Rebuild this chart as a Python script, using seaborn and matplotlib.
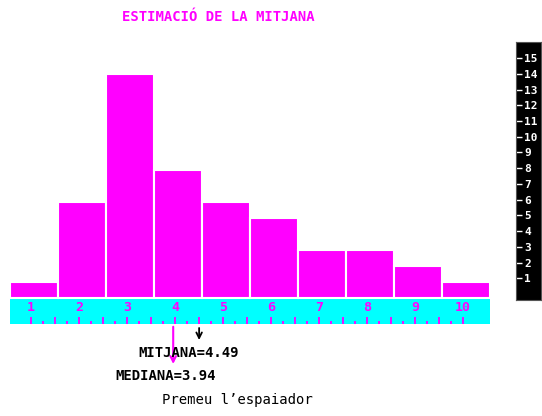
import numpy as np
import pandas as pd
import matplotlib
matplotlib.use("Agg")
import matplotlib.pyplot as plt
import seaborn as sns

# Histogram data
classes = [1, 2, 3, 4, 5, 6, 7, 8, 9, 10]
counts = [1, 6, 14, 8, 6, 5, 3, 3, 2, 1]
mean_value = 4.49
median_value = 3.94
scale_ticks = list(range(1, 16))

title_text = "ESTIMACIÓ DE LA MITJANA"
mean_text = "MITJANA=4.49"
median_text = "MEDIANA=3.94"
prompt_text = "Premeu l\u2019espaiador"

MAGENTA = "#FF00FF"
CYAN = "#00FFFF"

sns.set_style("white")
plt.rcParams['font.family'] = ['DejaVu Sans Mono', 'DejaVu Sans']

df = pd.DataFrame({"classe": classes, "freq": counts})

W, H = 542, 416
fig = plt.figure(figsize=(W / 100, H / 100), dpi=100)
fig.patch.set_facecolor("white")

# main histogram area: x 10..490 px, y 42..324 px
ax = fig.add_axes([10 / W, (H - 324) / H, 480 / W, 282 / H])
sns.barplot(data=df, x="classe", y="freq", native_scale=True, width=1,
            color=MAGENTA, saturation=1, edgecolor="white", linewidth=1.5, ax=ax)
ax.set_xlim(0.5, 10.5)
ax.set_ylim(-1.625, 16)
ax.set_xlabel("")
ax.set_ylabel("")
ax.set_xticks([])
ax.set_yticks([])
for s in ax.spines.values():
    s.set_visible(False)

# cyan ruler under the bars
shift = -0.06
ax.axhspan(-1.625, 0, xmin=0, xmax=1, color=CYAN, zorder=0.5)
major = np.arange(1, 10.01, 0.5) + shift
minor = np.arange(1.25, 9.8, 0.5) + shift
ax.vlines(major, -1.625, -1.19, color=MAGENTA, lw=1.3)
ax.vlines(minor, -1.625, -1.45, color=MAGENTA, lw=1.3)
for c in classes:
    ax.text(c + shift, -0.62, str(c), color=MAGENTA, ha="center", va="center",
            fontsize=9.5, fontweight="bold")

# mean (black) and median (magenta) arrows below the ruler
ax.annotate("", xy=(mean_value - 0.05, -2.8), xytext=(mean_value - 0.05, -1.7),
            xycoords="data", annotation_clip=False,
            arrowprops=dict(arrowstyle="->", color="black", lw=1.3))
ax.annotate("", xy=(median_value - 0.04, -4.3), xytext=(median_value - 0.04, -1.625),
            xycoords="data", annotation_clip=False,
            arrowprops=dict(arrowstyle="->", color=MAGENTA, lw=1.5))

fig.text(189 / W, 1 - 353 / H, mean_text, ha="center", va="center",
         fontsize=10, fontweight="bold", color="black")
fig.text(165.5 / W, 1 - 376 / H, median_text, ha="center", va="center",
         fontsize=10, fontweight="bold", color="black")
fig.text(237.5 / W, 1 - 400 / H, prompt_text, ha="center", va="center",
         fontsize=10, color="black")
fig.text(218.5 / W, 1 - 17 / H, title_text, ha="center", va="center",
         fontsize=10, fontweight="bold", color=MAGENTA)

# black scale panel on the right
axr = fig.add_axes([516 / W, (H - 300) / H, 25 / W, 258 / H])
axr.set_facecolor("black")
axr.set_xlim(0, 1)
axr.set_ylim(-0.38, 16.02)
axr.set_xticks([])
axr.set_yticks(scale_ticks)
axr.set_yticklabels([str(t) for t in scale_ticks])
axr.tick_params(axis="y", direction="in", length=4, width=1, color="white",
                labelcolor="white", labelsize=8, pad=-6, left=True, labelleft=True)
for lab in axr.get_yticklabels():
    lab.set_horizontalalignment("left")
    lab.set_fontweight("bold")
for s in axr.spines.values():
    s.set_color("#555555")
    s.set_linewidth(0.8)

fig.savefig("out.png", dpi=100, facecolor="white")
